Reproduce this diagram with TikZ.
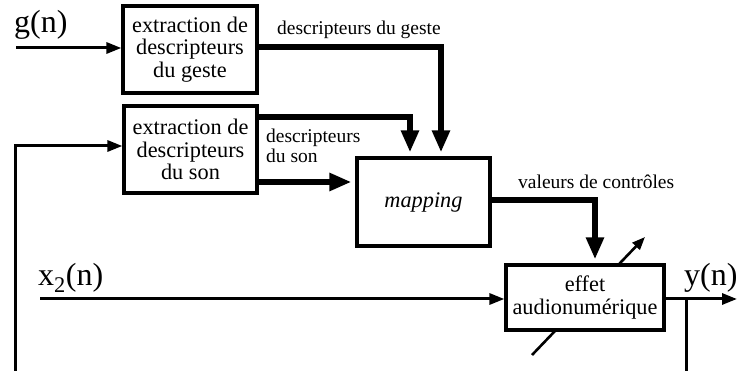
\documentclass[tikz,border=0pt]{standalone}
\usepackage{fontspec}
\setmainfont{Liberation Serif}
\usetikzlibrary{arrows.meta}
\begin{document}
\begin{tikzpicture}[x=1pt,y=-1pt,
  blk/.style={draw,line width=3.2pt,fill=white,inner sep=0pt,align=center,
    font=\fontsize{22.3}{22.8}\selectfont},
  thin/.style={line width=3pt,-{Triangle[length=15pt,width=11pt]}},
  thinline/.style={line width=3pt},
  thick/.style={line width=6pt,-{Triangle[length=22pt,width=17pt]},shorten >=4pt},
  lbl/.style={inner sep=0pt,anchor=base west,font=\fontsize{19.5}{20}\selectfont},
  sig/.style={inner sep=0pt,anchor=base west,font=\fontsize{32}{32}\selectfont}]
\useasboundingbox (0,0) rectangle (737,371);
% diagonal variable arrow (behind effect box)
\coordinate (d1) at (532,355);
\coordinate (d2) at (645,237);
\draw[line width=2.6pt,-{Triangle[length=13pt,width=10pt]}] (d1) -- (d2);
% blocks
\node[blk,minimum width=134pt,minimum height=87pt] (geste) at (190,49.5)
  {extraction de\\descripteurs\\du geste};
\node[blk,minimum width=133pt,minimum height=87pt] (son) at (190.5,149.5)
  {extraction de\\descripteurs\\du son};
\node[blk,minimum width=133pt,minimum height=88pt] (map) at (423.5,202)
  {\itshape mapping};
\node[blk,minimum width=158pt,minimum height=65pt] (eff) at (585,297.5)
  {effet\\audionumérique};
% signal labels
\node[sig] (g) at (14,33) {g(n)};
\node[sig] (x) at (38,286) {x\textsubscript{2}(n)};
\node[sig] (y) at (684,286) {y(n)};
% inputs
\coordinate (gin) at (16,48);
\draw[thin] (gin) -- (gin -| geste.west);
\coordinate (xin) at (40,299);
\draw[thin] (xin) -- (xin -| eff.west);
% output
\coordinate (yout) at (737,299);
\coordinate (tap) at (686,299);
\coordinate (tapend) at (686,371);
\draw[thin] (eff.east |- yout) -- (yout);
\draw[thinline] (tap) -- (tapend);
% feedback
\coordinate (fb0) at (15,371);
\coordinate (fb1) at (15,146);
\draw[thin] (fb0) -- (fb1) -- (fb1 -| son.west);
% descriptor connections
\coordinate (gc) at (441,47);
\draw[thick] (geste.east |- gc) -- (gc) -- (gc |- map.north);
\coordinate (sc) at (410,117);
\draw[thick] (son.east |- sc) -- (sc) -- (sc |- map.north);
\coordinate (sl) at (257,182);
\draw[thick] (sl) -- (sl -| map.west);
\coordinate (mc) at (595,200);
\draw[thick] (map.east |- mc) -- (mc) -- (mc |- eff.north);
% connector labels
\node[lbl] (l1) at (277,35) {descripteurs du geste};
\node[lbl] (l2a) at (266,143) {descripteurs};
\node[lbl] (l2b) at (266,163) {du son};
\node[lbl] (l3) at (518,189) {valeurs de contrôles};
\end{tikzpicture}
\end{document}
